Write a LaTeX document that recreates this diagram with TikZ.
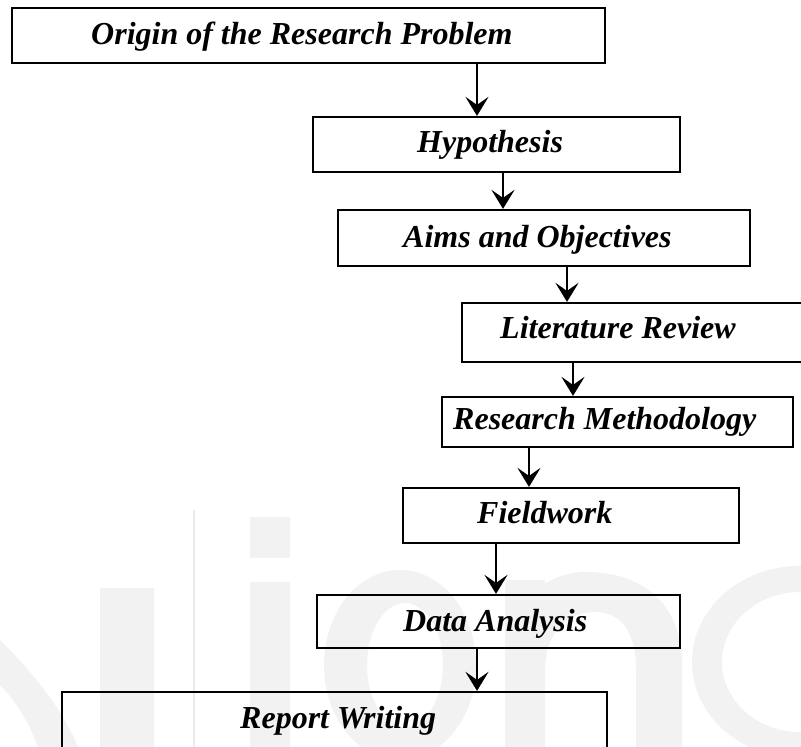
\documentclass[tikz,border=0pt]{standalone}
\usepackage{fontspec}
\setmainfont{Liberation Serif}
\usetikzlibrary{arrows.meta}
\begin{document}
\begin{tikzpicture}[x=1pt,y=-1pt,
  stage/.style={draw=black,line width=2.2pt,inner sep=0pt,minimum width=#1},
  caption/.style={anchor=base west,inner sep=0pt,font=\fontsize{32}{36}\selectfont\bfseries\itshape},
  flow/.style={draw=black,line width=2.8pt,-{Stealth[length=19pt,width=23pt,inset=8pt]}},
  faint/.style={fill=black!5,draw=none}]
\useasboundingbox (0,0) rectangle (801,747);
\clip (0,0) rectangle (801,747);
\fill[white] (0,0) rectangle (801,747);

% faint background lettering
\fill[faint] (0,640) .. controls (40,680) and (65,715) .. (78,747) -- (38,747) .. controls (28,720) and (15,700) .. (0,685) -- cycle;
\fill[faint] (100,588) rectangle (154,747);
\fill[black!8] (193,510) rectangle (195,747);
\fill[faint] (250,517) rectangle (290,558);
\fill[faint] (250,582) rectangle (290,747);
\fill[faint,even odd rule] (400,665) ellipse [x radius=76,y radius=95] (405,665) ellipse [x radius=38,y radius=62];
\fill[faint] (505,580) rectangle (545,747);
\fill[faint] (505,640) .. controls (515,590) and (560,570) .. (590,572) .. controls (650,574) and (680,610) .. (682,660) -- (682,747) -- (636,747) -- (636,670) .. controls (636,630) and (620,612) .. (595,612) .. controls (565,612) and (545,635) .. (545,670) -- cycle;
\fill[faint,even odd rule] (800,662) ellipse [x radius=108,y radius=96] (800,662) ellipse [x radius=78,y radius=70];

% stages
\node[stage=593pt,minimum height=55pt] (b1) at (308.5,35.5) {};
\node[stage=367pt,minimum height=55pt] (b2) at (496.5,144.5) {};
\node[stage=412pt,minimum height=56pt] (b3) at (544,238) {};
\node[stage=368pt,minimum height=59pt] (b4) at (646,332.5) {};
\node[stage=351pt,minimum height=50pt] (b5) at (617.5,422) {};
\node[stage=336pt,minimum height=55pt] (b6) at (571,515.5) {};
\node[stage=363pt,minimum height=53pt] (b7) at (498.5,621.5) {};
\node[stage=545pt,minimum height=98pt] (b8) at (334.5,741) {};

\node[caption] (t1) at (91,44) {Origin of the Research Problem};
\node[caption] (t2) at (417,152) {Hypothesis};
\node[caption] (t3) at (403,247) {Aims and Objectives};
\node[caption] (t4) at (500,338) {Literature Review};
\node[caption] (t5) at (453,429) {Research Methodology};
\node[caption] (t6) at (477,523) {Fieldwork};
\node[caption] (t7) at (403,631) {Data Analysis};
\node[caption] (t8) at (240,728) {Report Writing};

% connectors
\draw[flow] ([xshift=168.5pt]b1.south) -- ([xshift=168.5pt]b1.south |- b2.north);
\draw[flow] ([xshift=6.5pt]b2.south) -- ([xshift=6.5pt]b2.south |- b3.north);
\draw[flow] ([xshift=23pt]b3.south) -- ([xshift=23pt]b3.south |- b4.north);
\draw[flow] ([xshift=-73pt]b4.south) -- ([xshift=-73pt]b4.south |- b5.north);
\draw[flow] ([xshift=-88.5pt]b5.south) -- ([xshift=-88.5pt]b5.south |- b6.north);
\draw[flow] ([xshift=-75pt]b6.south) -- ([xshift=-75pt]b6.south |- b7.north);
\draw[flow] ([xshift=-21.5pt]b7.south) -- ([xshift=-21.5pt]b7.south |- b8.north);
\end{tikzpicture}
\end{document}
